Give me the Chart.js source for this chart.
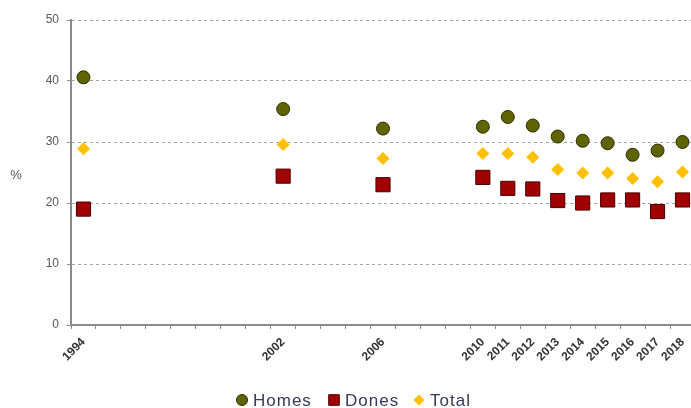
<!DOCTYPE html>
<html>
<head>
<meta charset="utf-8">
<script src="https://cdn.jsdelivr.net/npm/chart.js@4/dist/chart.umd.min.js"></script>
<style>
  html, body { margin: 0; padding: 0; background: #fff; overflow: hidden; }
  #wrap { width: 706px; height: 408px; }
</style>
</head>
<body>
<div id="wrap"><canvas id="c"></canvas></div>
<script>
// Survey years shown on the axis (every year gets a slot, only survey years are labelled)
const years = [];
for (let y = 1994; y <= 2018; y++) years.push(String(y));
const surveyYears = ['1994', '2002', '2006', '2010', '2011', '2012', '2013', '2014', '2015', '2016', '2017', '2018'];

// Percentages per survey year
const homes = [40.6, 35.4, 32.2, 32.5, 34.1, 32.7, 30.9, 30.2, 29.8, 27.9, 28.6, 30.0];
const dones = [19.0, 24.4, 23.0, 24.2, 22.4, 22.3, 20.4, 20.0, 20.5, 20.5, 18.6, 20.5];
const total = [28.9, 29.6, 27.3, 28.1, 28.1, 27.5, 25.5, 24.9, 24.9, 24.0, 23.5, 25.1];

const yTicks = [0, 10, 20, 30, 40, 50];

const toPoints = vals => surveyYears.map((yr, i) => ({ x: yr, y: vals[i] }));

const FONT = '"Liberation Sans", Arial, sans-serif';

// Horizontal "%" caption beside the value axis
const unitLabel = {
  id: 'unitLabel',
  afterDraw(chart) {
    const ctx = chart.ctx;
    const a = chart.chartArea;
    ctx.save();
    ctx.fillStyle = '#555555';
    ctx.font = '13px ' + FONT;
    ctx.textAlign = 'center';
    ctx.textBaseline = 'middle';
    ctx.fillText('%', 16, (a.top + a.bottom) / 2 + 3);
    ctx.restore();
  }
};

// Legend row under the axis: marker + series name, laid out from fixed start points
const legendRow = {
  id: 'legendRow',
  afterDraw(chart) {
    const ctx = chart.ctx;
    const starts = [253, 345, 430];
    const cy = 400;
    ctx.save();
    chart.data.datasets.forEach((ds, i) => {
      const x = starts[i];
      const r = ds.pointStyle === 'rect' ? 7.5 : 5.5;
      ctx.fillStyle = ds.backgroundColor;
      ctx.strokeStyle = ds.borderColor;
      ctx.lineWidth = ds.borderWidth;
      Chart.helpers.drawPoint(ctx, { pointStyle: ds.pointStyle, radius: r, rotation: 0, borderWidth: ds.borderWidth }, x - 11, cy);
      ctx.fillStyle = '#363a55';
      ctx.font = '17px ' + FONT;
      ctx.letterSpacing = '1px';
      ctx.textAlign = 'left';
      ctx.textBaseline = 'middle';
      ctx.fillText(ds.label, x, cy + 1);
    });
    ctx.restore();
  }
};

new Chart(document.getElementById('c'), {
  type: 'scatter',
  data: {
    labels: years,
    datasets: [
      {
        label: 'Homes',
        data: toPoints(homes),
        pointStyle: 'circle',
        pointRadius: 6.5,
        pointHoverRadius: 6.5,
        backgroundColor: '#5f6400',
        borderColor: '#2e2e00',
        borderWidth: 1
      },
      {
        label: 'Dones',
        data: toPoints(dones),
        pointStyle: 'rect',
        pointRadius: 10,
        pointHoverRadius: 10,
        backgroundColor: '#a00000',
        borderColor: '#4a0000',
        borderWidth: 1
      },
      {
        label: 'Total',
        data: toPoints(total),
        pointStyle: 'rectRot',
        pointRadius: 6.5,
        pointHoverRadius: 6.5,
        backgroundColor: '#ffc000',
        borderColor: '#ffc000',
        borderWidth: 0
      }
    ]
  },
  options: {
    responsive: true,
    maintainAspectRatio: false,
    animation: false,
    layout: { padding: { top: 20, right: 0, left: 0, bottom: 0 } },
    plugins: {
      tooltip: { enabled: false },
      legend: { display: false }
    },
    scales: {
      x: {
        type: 'category',
        labels: years,
        offset: true,
        border: { display: true, color: '#8c8c8c', width: 2 },
        grid: {
          offset: true,
          drawOnChartArea: false,
          drawTicks: true,
          tickLength: 4,
          color: '#8c8c8c'
        },
        ticks: {
          autoSkip: false,
          maxRotation: 45,
          minRotation: 45,
          padding: 6,
          color: '#333333',
          font: { family: FONT, size: 12, weight: 'bold' },
          callback: function (value) {
            const lbl = this.getLabelForValue(value);
            return surveyYears.includes(lbl) ? lbl : '';
          }
        },
        afterFit: s => { s.height = 408 - 325; }
      },
      y: {
        min: 0,
        max: 50,
        afterBuildTicks: s => { s.ticks = yTicks.map(v => ({ value: v })); },
        border: { display: true, color: '#8c8c8c', width: 2, dash: [3, 3] },
        grid: {
          color: '#a6a6a6',
          lineWidth: 1,
          tickLength: 4,
          tickColor: '#8c8c8c',
          tickBorderDash: []
        },
        ticks: {
          color: '#595959',
          padding: 8,
          font: { family: FONT, size: 12 }
        },
        afterFit: s => { s.width = 71; }
      }
    }
  },
  plugins: [unitLabel, legendRow]
});
</script>
</body>
</html>
